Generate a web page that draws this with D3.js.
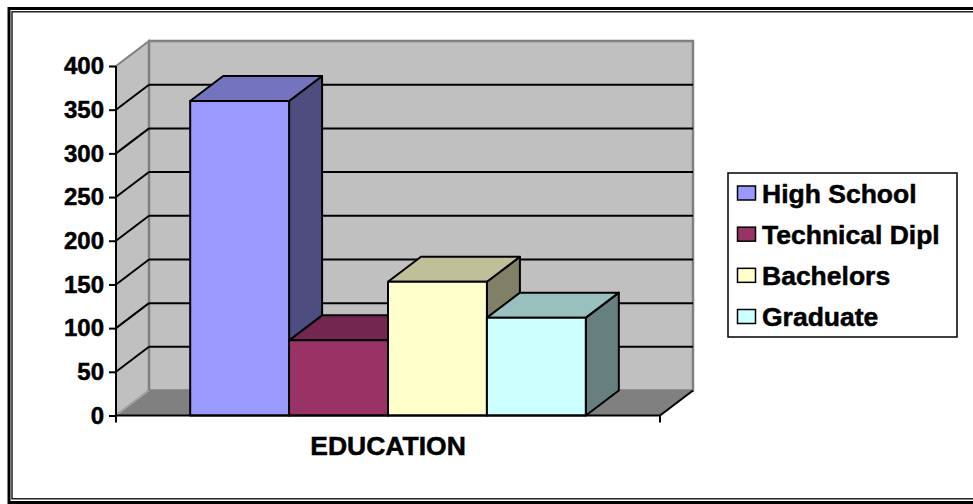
<!DOCTYPE html>
<html><head><meta charset="utf-8">
<script src="https://cdn.jsdelivr.net/npm/d3@7"></script>
<style>body{margin:0;background:#fff;} svg{display:block;}</style>
</head><body>
<script>
const categories = ["EDUCATION"];
const series = ["High School", "Technical Dipl", "Bachelors", "Graduate"];
const values = [360, 86, 153, 112];
const frontColors = ["#9999FF", "#993366", "#FFFFCC", "#CCFFFF"];
const topColors = ["#7373BF", "#732650", "#BFBF99", "#99BFBF"];
const sideColors = ["#4D4D80", "#4D1A33", "#808066", "#668080"];
const yTicks = [0, 50, 100, 150, 200, 250, 300, 350, 400];

const W = 973, H = 504;
const svg = d3.select("body").append("svg").attr("width", W).attr("height", H);
const FONT = "'Liberation Sans', Arial, sans-serif";

// frame
svg.append("rect").attr("x", 9).attr("y", 8.5).attr("width", W + 10).attr("height", 494)
  .attr("fill", "none").attr("stroke", "#000").attr("stroke-width", 3);
svg.append("rect").attr("x", 12).attr("y", 11.8).attr("width", W + 10).attr("height", 487)
  .attr("fill", "none").attr("stroke", "#000").attr("stroke-width", 1.3);

const X0 = 116, X1 = 660, DX = 33, DY = -25;
const y = d3.scaleLinear().domain([0, 400]).range([415.5, 66]);
const xc = d3.scaleBand().domain(categories).range([X0, X1]);
const xs = d3.scaleBand().domain(series).range([xc(categories[0]), xc(categories[0]) + xc.bandwidth()])
  .paddingInner(0).paddingOuter(0.75);

const Y0 = y(0), Ytop = y(400);
const pts = a => a.map(p => p.join(",")).join(" ");

// side wall
svg.append("polygon").attr("points", pts([[X0, Ytop], [X0 + DX, Ytop + DY], [X0 + DX, Y0 + DY], [X0, Y0]]))
  .attr("fill", "#C0C0C0").attr("stroke", "#808080").attr("stroke-width", 2);
// back wall
svg.append("rect").attr("x", X0 + DX).attr("y", Ytop + DY).attr("width", X1 - X0).attr("height", Y0 - Ytop)
  .attr("fill", "#C0C0C0").attr("stroke", "#808080").attr("stroke-width", 2.5);
// floor
svg.append("polygon").attr("points", pts([[X0, Y0], [X0 + DX, Y0 + DY], [X1 + DX, Y0 + DY], [X1, Y0]]))
  .attr("fill", "#808080").attr("stroke", "none");
svg.append("line").attr("x1", X0).attr("y1", Y0).attr("x2", X0 + DX).attr("y2", Y0 + DY)
  .attr("stroke", "#A8A8A8").attr("stroke-width", 1.5);
svg.append("line").attr("x1", X1).attr("y1", Y0).attr("x2", X1 + DX).attr("y2", Y0 + DY)
  .attr("stroke", "#000").attr("stroke-width", 2);

// gridlines
const grid = yTicks.filter(t => t > 0 && t < 400);
svg.selectAll("line.gb").data(grid).enter().append("line")
  .attr("x1", X0 + DX).attr("x2", X1 + DX)
  .attr("y1", d => y(d) + DY).attr("y2", d => y(d) + DY)
  .attr("stroke", "#000").attr("stroke-width", 2);
svg.selectAll("line.gs").data(grid).enter().append("line")
  .attr("x1", X0).attr("x2", X0 + DX)
  .attr("y1", d => y(d)).attr("y2", d => y(d) + DY)
  .attr("stroke", "#000").attr("stroke-width", 2);

// bars
const bars = svg.append("g");
series.forEach((s, i) => {
  const x = xs(s), w = xs.bandwidth(), yt = y(values[i]);
  const g = bars.append("g").attr("stroke", "#000").attr("stroke-width", 2).attr("stroke-linejoin", "round");
  g.append("polygon").attr("points", pts([[x + w, yt], [x + w + DX, yt + DY], [x + w + DX, Y0 + DY], [x + w, Y0]]))
    .attr("fill", sideColors[i]);
  g.append("polygon").attr("points", pts([[x, yt], [x + DX, yt + DY], [x + w + DX, yt + DY], [x + w, yt]]))
    .attr("fill", topColors[i]);
  g.append("rect").attr("x", x).attr("y", yt).attr("width", w).attr("height", Y0 - yt)
    .attr("fill", frontColors[i]);
});

// axes
const yAxis = d3.axisLeft(y).tickValues(yTicks).tickSize(7).tickPadding(5).tickFormat(d3.format("d"));
const ya = svg.append("g").attr("transform", `translate(${X0},0)`).call(yAxis);
ya.select(".domain").remove();
ya.selectAll(".tick line").attr("stroke", "#000").attr("stroke-width", 2);
ya.selectAll("text").attr("font-family", FONT).attr("font-weight", "bold").attr("font-size", 24)
  .attr("fill", "#000").attr("stroke", "#000").attr("stroke-width", 0.5);
svg.append("line").attr("x1", X0).attr("x2", X0).attr("y1", Ytop).attr("y2", Y0 + 7)
  .attr("stroke", "#000").attr("stroke-width", 2);

const xAxis = d3.axisBottom(xc).tickSize(0).tickFormat("");
const xa = svg.append("g").attr("transform", `translate(0,${Y0})`).call(xAxis);
xa.select(".domain").attr("stroke", "#000").attr("stroke-width", 2).attr("d", `M${X0},0H${X1}`);
svg.append("line").attr("x1", X1).attr("x2", X1).attr("y1", Y0).attr("y2", Y0 + 7)
  .attr("stroke", "#000").attr("stroke-width", 2);
svg.append("text").attr("x", xc(categories[0]) + xc.bandwidth() / 2).attr("y", 455)
  .attr("text-anchor", "middle").attr("font-family", FONT).attr("font-weight", "bold")
  .attr("font-size", 26.5).attr("stroke", "#000").attr("stroke-width", 0.5).text(categories[0]);

// legend
const lg = svg.append("g");
lg.append("rect").attr("x", 728).attr("y", 173).attr("width", 229).attr("height", 164)
  .attr("fill", "#fff").attr("stroke", "#000").attr("stroke-width", 1.5);
const rowY = d3.scalePoint().domain(series).range([193, 316.5]);
series.forEach((s, i) => {
  lg.append("rect").attr("x", 737.5).attr("y", rowY(s) - 7).attr("width", 18).attr("height", 14)
    .attr("fill", frontColors[i]).attr("stroke", "#000").attr("stroke-width", 1.5);
  lg.append("text").attr("x", 762).attr("y", rowY(s)).attr("dy", "0.36em")
    .attr("font-family", FONT).attr("font-weight", "bold").attr("font-size", 26.5)
    .attr("stroke", "#000").attr("stroke-width", 0.5).text(s);
});
</script>
</body></html>
